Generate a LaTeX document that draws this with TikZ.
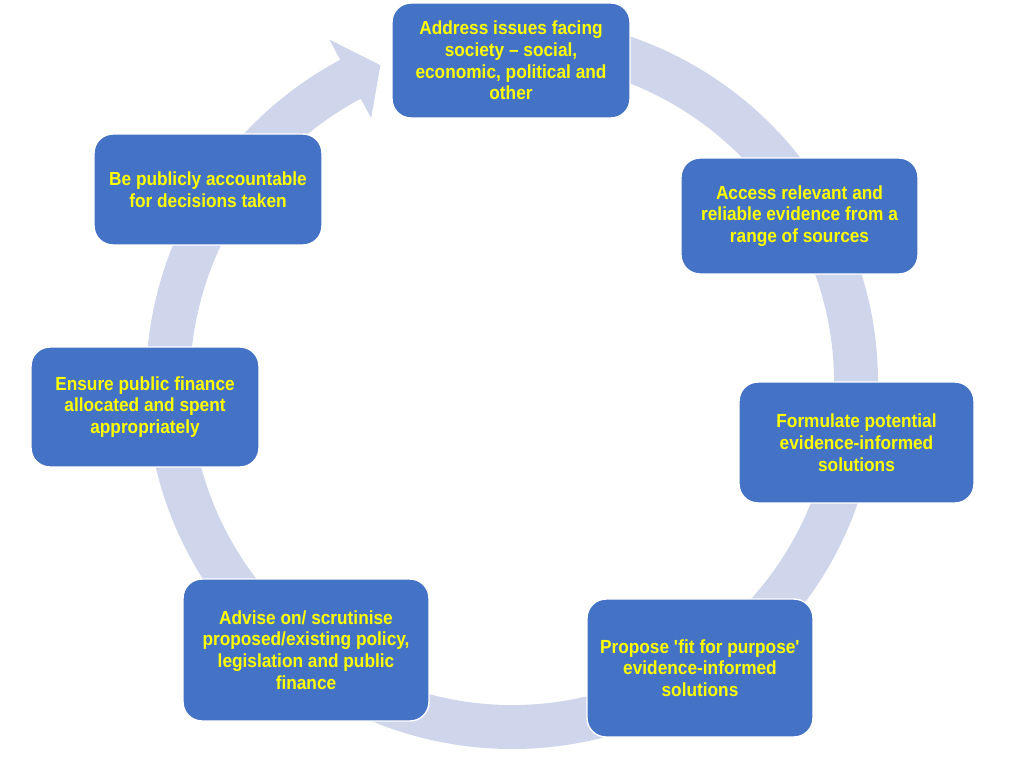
\documentclass[tikz,border=0pt]{standalone}
\usepackage{fontspec}
\setmainfont{Liberation Sans}[FakeStretch=0.91]
\definecolor{ringblue}{HTML}{CFD5EA}
\definecolor{boxblue}{HTML}{4472C4}
\definecolor{textyellow}{HTML}{FFFF00}
\tikzset{
	stage/.style={draw=white, line width=0.8pt, fill=boxblue, rounded corners=0.38cm,
		inner sep=0pt, align=center, text=textyellow,
		font=\fontsize{10.8}{12.4}\selectfont\bfseries}
}
\begin{document}
\begin{tikzpicture}[x=0.02cm, y=0.02cm]

				\useasboundingbox (0,0) rectangle (1024,-757);

				% ring with the arrow head
				\begin{scope}[shift={(512,-383)}]
				\fill [ringblue]
				(85:366) arc[start angle=85, end angle=-242, radius=366] --
				(-242:389) -- (-247.5:344) -- (-242:300) -- (-242:322)
				arc[start angle=-242, end angle=85, radius=322] -- cycle;
				\end{scope}

				\node [stage, minimum width=4.76cm, minimum height=2.30cm] (address) at (511,-60.5)
				{Address issues facing\\society -- social,\\economic, political and\\other};
				\node [stage, minimum width=4.74cm, minimum height=2.32cm] (access) at (799.5,-216)
				{Access relevant and\\reliable evidence from a\\range of sources};
				\node [stage, minimum width=4.70cm, minimum height=2.42cm] (formulate) at (856.5,-442.5)
				{Formulate potential\\evidence-informed\\solutions};
				\node [stage, minimum width=4.52cm, minimum height=2.76cm] (propose) at (700,-668)
				{Propose \textquotesingle fit for purpose\textquotesingle\\evidence-informed\\solutions};
				\node [stage, minimum width=4.92cm, minimum height=2.84cm] (advise) at (306,-650)
				{Advise on/ scrutinise\\proposed/existing policy,\\legislation and public\\finance};
				\node [stage, minimum width=4.56cm, minimum height=2.40cm] (ensure) at (145,-407)
				{Ensure public finance\\allocated and spent\\appropriately};
				\node [stage, minimum width=4.56cm, minimum height=2.22cm] (account) at (208,-189.5)
				{Be publicly accountable\\for decisions taken};

			\end{tikzpicture}
\end{document}
